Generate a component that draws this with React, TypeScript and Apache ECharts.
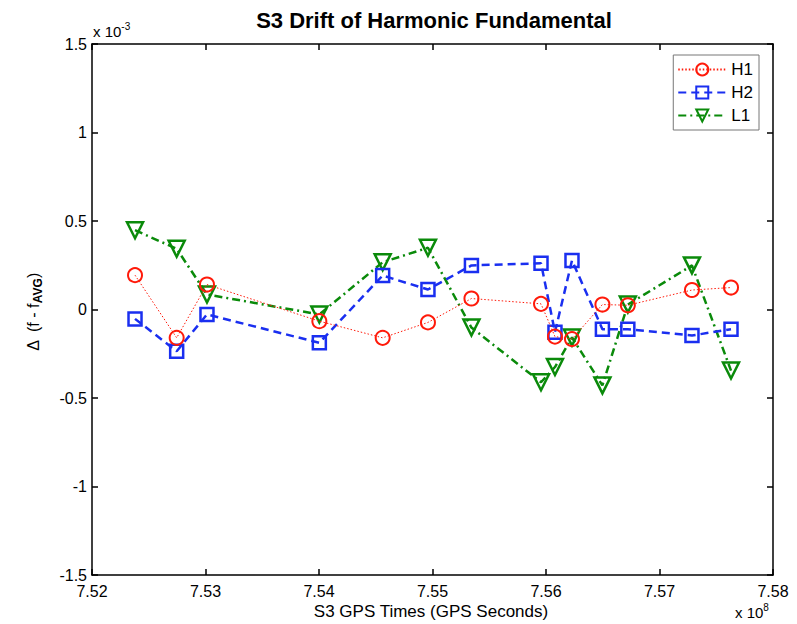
import React, { useEffect, useRef } from "react";
import * as echarts from "echarts";

// GPS times in units of 1e8 s
const gpsTimes = [
  7.52379, 7.52746, 7.53013, 7.54003, 7.54561, 7.5496, 7.55343, 7.55956,
  7.56079, 7.56229, 7.56497, 7.56721, 7.57286, 7.5763,
];
// Δ(f - f_AVG) in units of 1e-3
const h1Values = [0.194, -0.16, 0.141, -0.066, -0.16, -0.073, 0.062, 0.032, -0.153, -0.167, 0.028, 0.024, 0.11, 0.124];
const h2Values = [-0.053, -0.236, -0.028, -0.188, 0.192, 0.113, 0.249, 0.261, -0.128, 0.277, -0.111, -0.111, -0.147, -0.111];
const l1Values = [0.448, 0.343, 0.085, -0.028, 0.267, 0.349, -0.102, -0.411, -0.325, -0.158, -0.429, 0.028, 0.249, -0.345];
const seriesNames = ["H1", "H2", "L1"];

const FONT = "'Liberation Sans', Arial, Helvetica, sans-serif";

export default function App() {
  const ref = useRef<HTMLDivElement>(null);
  useEffect(() => {
    document.body.style.margin = "0";
    const chart = echarts.init(ref.current!, undefined, { renderer: "svg" });
    const pair = (vals: number[]) => gpsTimes.map((t, i) => [t, vals[i]]);
    const axisLine = { show: true, onZero: false, lineStyle: { color: "#000", width: 1.5 } };
    const tick = { show: true, inside: true, length: 6, lineStyle: { color: "#000", width: 1.5 } };
    chart.setOption({
      animation: false,
      backgroundColor: "#fff",
      textStyle: { fontFamily: FONT },
      grid: { left: 92, right: 24, top: 44, bottom: 49, containLabel: false },
      xAxis: [
        {
          type: "value", min: 7.52, max: 7.58, interval: 0.01, position: "bottom",
          axisLine, axisTick: tick, splitLine: { show: false },
          axisLabel: { color: "#000", fontSize: 16, margin: 8, fontFamily: FONT, formatter: (v: number) => v.toFixed(2) },
        },
        {
          type: "value", min: 7.52, max: 7.58, interval: 0.01, position: "top",
          axisLine, axisTick: tick, splitLine: { show: false }, axisLabel: { show: false },
        },
      ],
      yAxis: [
        {
          type: "value", min: -1.5, max: 1.5, interval: 0.5, position: "left",
          axisLine, axisTick: tick, splitLine: { show: false },
          axisLabel: { color: "#000", fontSize: 16, margin: 5, fontFamily: FONT },
        },
        {
          type: "value", min: -1.5, max: 1.5, interval: 0.5, position: "right",
          axisLine, axisTick: tick, splitLine: { show: false }, axisLabel: { show: false },
        },
      ],
      legend: {
        orient: "vertical", right: 38, top: 55, itemGap: 6, itemWidth: 48, itemHeight: 15,
        padding: [6, 6, 6, 4], borderColor: "#777", borderWidth: 1, backgroundColor: "#fff",
        textStyle: { color: "#000", fontSize: 17, fontFamily: FONT },
        data: seriesNames,
      },
      series: [
        {
          name: seriesNames[0], type: "line", data: pair(h1Values), symbol: "circle", symbolSize: 14,
          itemStyle: { color: "transparent", borderColor: "#ff1a0a", borderWidth: 2 },
          lineStyle: { color: "#ff1a0a", width: 1, type: [1.5, 2] },
          z: 3,
        },
        {
          name: seriesNames[1], type: "line", data: pair(h2Values), symbol: "rect", symbolSize: 13,
          itemStyle: { color: "transparent", borderColor: "#1a2ff0", borderWidth: 2.5 },
          lineStyle: { color: "#1a2ff0", width: 2.5, type: [8, 5] },
          z: 2,
        },
        {
          name: seriesNames[2], type: "line", data: pair(l1Values), symbol: "triangle", symbolRotate: 180, symbolSize: 16,
          itemStyle: { color: "transparent", borderColor: "#0a8a0a", borderWidth: 2.5 },
          lineStyle: { color: "#0a8a0a", width: 2.5, type: [8, 4, 2, 4] },
          z: 1,
        },
      ],
      graphic: [
        {
          type: "text", x: 434, y: 20,
          style: { text: "S3 Drift of Harmonic Fundamental", font: `bold 22px ${FONT}`, fill: "#000", textAlign: "center", textVerticalAlign: "middle" },
        },
        {
          type: "text", x: 93, y: 31,
          style: {
            text: "{a|x 10}{s|-3}", textVerticalAlign: "middle", fill: "#000",
            rich: { a: { fontSize: 15, fontFamily: FONT, fill: "#000" }, s: { fontSize: 10, fontFamily: FONT, fill: "#000", padding: [0, 0, 9, 0] } },
          },
        },
        {
          type: "text", x: 735, y: 612,
          style: {
            text: "{a|x 10}{s|8}", textVerticalAlign: "middle", fill: "#000",
            rich: { a: { fontSize: 15, fontFamily: FONT, fill: "#000" }, s: { fontSize: 10, fontFamily: FONT, fill: "#000", padding: [0, 0, 9, 0] } },
          },
        },
        {
          type: "text", x: 431, y: 611,
          style: { text: "S3 GPS Times (GPS Seconds)", font: `17px ${FONT}`, fill: "#000", textAlign: "center", textVerticalAlign: "middle" },
        },
        {
          type: "text", x: 33, y: 312, rotation: Math.PI / 2,
          style: {
            text: "{a|Δ  (f - f}{s|AVG}{a|)}", textAlign: "center", textVerticalAlign: "middle", fill: "#000",
            rich: { a: { fontSize: 16, fontFamily: FONT, fill: "#000" }, s: { fontSize: 12, fontFamily: FONT, fill: "#000", fontWeight: "bold", padding: [10, 0, 0, 0] } },
          },
        },
      ],
    });
    return () => chart.dispose();
  }, []);
  return <div ref={ref} style={{ width: 797, height: 624 }} />;
}
